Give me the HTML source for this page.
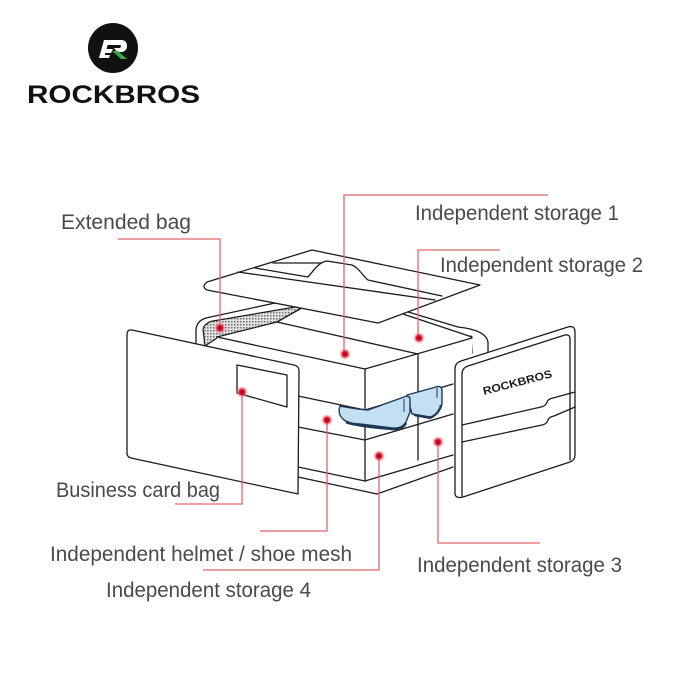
<!DOCTYPE html>
<html><head><meta charset="utf-8">
<style>
html,body{margin:0;padding:0;background:#fff;}
svg{display:block;}
.t{font-family:"Liberation Sans",sans-serif;font-size:21px;fill:#4a4a4a;}
.k{fill:none;stroke:#1c1c1c;stroke-width:1.3;stroke-linejoin:round;stroke-linecap:round;}
.w{fill:#fff;stroke:#1c1c1c;stroke-width:1.3;stroke-linejoin:round;}
.f{fill:#fff;stroke:none;}
.r{fill:none;stroke:#e0646c;stroke-width:1.3;}
</style></head><body>
<svg width="700" height="700" viewBox="0 0 700 700" xmlns="http://www.w3.org/2000/svg">
<defs>
<pattern id="hatch" width="3" height="3" patternUnits="userSpaceOnUse">
<rect width="3" height="3" fill="#e2e2e2"/>
<rect width="1.5" height="1.5" fill="#6e6e6e"/>
</pattern>
<radialGradient id="glow">
<stop offset="0" stop-color="#b80016"/>
<stop offset="0.4" stop-color="#cf1028"/>
<stop offset="0.7" stop-color="#f06a78" stop-opacity="0.6"/>
<stop offset="1" stop-color="#ff9aa5" stop-opacity="0"/>
</radialGradient>
</defs>

<!-- Logo -->
<circle cx="113" cy="48" r="25" fill="#111"/>
<path d="M104,40 L121,40 Q127,40 127,46 Q127,51 122,52 L117,52 L114,48 L120,48 Q121,47 121,46 Q121,45 120,45 L107,45 Z" fill="#fff"/>
<path d="M104,40 L109,40 L104,58 L99,58 Z" fill="#fff"/>
<path d="M105,49 L113,49 L111,53 L104,53 Z" fill="#fff"/>
<path d="M101,55 L110,55 L109,58 L100,58 Z" fill="#fff"/>
<path d="M112,51 L118,51 L127,59 L121,59 Z" fill="#3aa845"/>
<text x="27" y="103" font-family="Liberation Sans, sans-serif" font-weight="bold" font-size="25" fill="#111" textLength="173" lengthAdjust="spacingAndGlyphs">ROCKBROS</text>

<!-- Shell (back band) -->
<path class="f" d="M196,347 L196,331 Q196,321 206,318 L335,290 L458,327 Q486,330 488,342 L488,362 L472,362 L472,345 L365,372 L217,342 L203,350 Z"/>
<path class="k" d="M196,347 L196,331 Q196,321 206,318 L335,290 L458,327 Q486,330 488,342 L488,362"/>
<path class="k" d="M471,336 L472,353"/>
<!-- hatch mesh -->
<path d="M205,346 L203,330 Q204,323 213,321 L307,305 L277,322 L217,338 Z" fill="url(#hatch)" stroke="#1c1c1c" stroke-width="1.2"/>

<!-- Box body -->
<path class="f" d="M217,337 L277,322 L307,305 L363,300 L472,338 L472,452 L365,481 L217,448 Z"/>
<path class="k" d="M217,337 L365,369 L472,338"/>
<path class="k" d="M217,337 L277,322 L307,305"/>
<path class="k" d="M277,322 L418,354"/>
<path class="k" d="M403,314 L472,337"/>
<path class="k" d="M365,369 V481"/>
<path class="k" d="M418,354 V460"/>
<path class="k" d="M298,396 L365,410 L453,384"/>
<path class="k" d="M298,427 L365,440 L453,414"/>
<path class="k" d="M298,467 L365,481 L453,455"/>
<path class="k" d="M298,477 L377,494 L453,467"/>

<!-- Shoes -->
<path d="M407,395 L436,387 Q441,385 442,390 L442,404 Q440,414 430,417 L412,414 Z" fill="#c2e0f2" stroke="#1d3a55" stroke-width="1.4" stroke-linejoin="round"/>
<path d="M340,406 Q337,414 344,420 Q350,424 360,424 L392,428 Q402,429 406,422 L410,412 L410,398 Q408,395 404,397 L368,410 Q356,409 340,406 Z" fill="#c2e0f2" stroke="#1d3a55" stroke-width="1.4" stroke-linejoin="round"/>
<path d="M346,422 Q356,426 392,429 Q402,430 406,423" fill="none" stroke="#1d3a55" stroke-width="2.6"/>
<path d="M414,415 L430,418 Q439,414 441,405" fill="none" stroke="#1d3a55" stroke-width="2.2"/>
<path d="M404,399 V412 M437,388 V398" fill="none" stroke="#1d3a55" stroke-width="1"/>

<!-- Lid -->
<path class="w" d="M207,282 L312,250 L480,285 L378,323 L207,290 Q201,287 207,282 Z"/>
<path class="k" d="M238,272 L435,300"/>
<path class="k" d="M255,268 L308,277 C314,270 319,262 327,261 L352,265 C359,268 362,275 368,280 L442,296"/>
<path class="k" d="M273,263 L322,263"/>

<!-- Left panel -->
<path class="w" d="M132,330 L294,365 Q299,366 299,371 L298,494 L131,458 Q127,457 127,453 L127,335 Q127,329 132,330 Z"/>
<path class="k" d="M237,365 L287,375 L287,407 L237,393 Z"/>

<!-- Right panel -->
<path class="w" d="M455,369 Q455,363 461,361 L568,327 Q575,325 575,332 L575,455 Q575,460 570,462 L463,497 Q455,499 455,493 Z"/>
<path class="k" d="M462,496 L462,374 Q462,368 468,366 L565,335 Q570,334 570,339 L570,460"/>
<path class="k" d="M462,425 L541,407 Q546,406 547,402 Q548,399 553,398 L575,392"/>
<path class="k" d="M462,442 L542,425 Q547,424 548,420 Q549,417 554,416 L575,407"/>
<text x="484" y="395" transform="rotate(-14.6 484 395)" font-family="Liberation Sans, sans-serif" font-weight="bold" font-size="11" fill="#1c1c1c" textLength="71" lengthAdjust="spacingAndGlyphs">ROCKBROS</text>

<!-- Red connectors -->
<path class="r" d="M118,239 H220 V328"/>
<path class="r" d="M548,195 H344 V354"/>
<path class="r" d="M500,250 H418 V338"/>
<path class="r" d="M242,392 V504 H175"/>
<path class="r" d="M327,420 V531 H260"/>
<path class="r" d="M379,456 V570 H203"/>
<path class="r" d="M438,442 V543 H540"/>

<g fill="url(#glow)">
<circle cx="220" cy="328" r="6"/>
<circle cx="345" cy="354" r="6"/>
<circle cx="419" cy="338" r="6"/>
<circle cx="242" cy="392" r="6"/>
<circle cx="327" cy="420" r="6"/>
<circle cx="379" cy="456" r="6"/>
<circle cx="438" cy="442" r="6"/>
</g>

<!-- Labels -->
<text class="t" x="61" y="229" textLength="130" lengthAdjust="spacingAndGlyphs">Extended bag</text>
<text class="t" x="415" y="220" textLength="204" lengthAdjust="spacingAndGlyphs">Independent storage 1</text>
<text class="t" x="440" y="272" textLength="203" lengthAdjust="spacingAndGlyphs">Independent storage 2</text>
<text class="t" x="56" y="497" textLength="164" lengthAdjust="spacingAndGlyphs">Business card bag</text>
<text class="t" x="50" y="561" textLength="302" lengthAdjust="spacingAndGlyphs">Independent helmet / shoe mesh</text>
<text class="t" x="106" y="597" textLength="205" lengthAdjust="spacingAndGlyphs">Independent storage 4</text>
<text class="t" x="417" y="572" textLength="205" lengthAdjust="spacingAndGlyphs">Independent storage 3</text>
</svg>
</body></html>
